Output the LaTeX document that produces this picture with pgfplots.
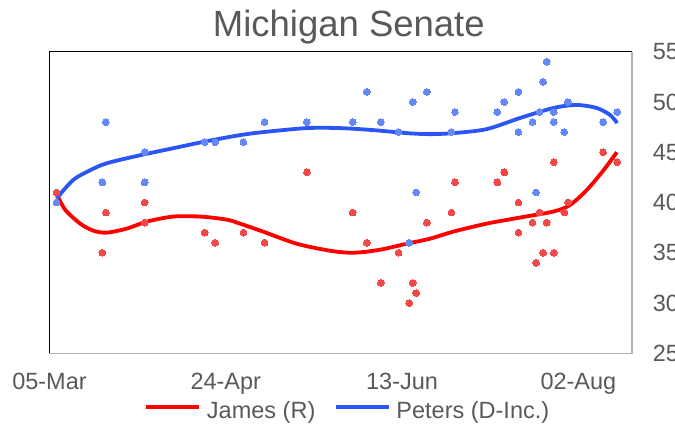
\documentclass[border=0pt]{standalone}
\usepackage{pgfplots}
\pgfplotsset{compat=1.18}
\usepackage{fontspec}
\setmainfont{Liberation Sans}
\definecolor{txt}{HTML}{595959}
\definecolor{rline}{HTML}{FF0000}
\definecolor{rdot}{HTML}{F24848}
\definecolor{bline}{HTML}{2B55F5}
\definecolor{bdot}{HTML}{6587F7}
\begin{document}
\begin{tikzpicture}
\path[use as bounding box] (0,0) rectangle (675pt,427pt);
\node[anchor=base, text=txt, font=\fontsize{36.5}{42}\selectfont, inner sep=0pt] at (348.8pt,390.3pt) {Michigan Senate};
\begin{axis}[
  at={(49.5pt,73.7pt)}, anchor=south west,
  scale only axis, width=582.5pt, height=301.6pt,
  xmin=0, xmax=165.2, ymin=25, ymax=55,
  axis line style={draw=none},
  xtick={0,50,100,150}, xticklabels={05-Mar,24-Apr,13-Jun,02-Aug},
  ytick={25,30,35,40,45,50,55},
  yticklabel pos=right,
  major tick length=0pt,
  tick label style={font=\fontsize{23.5}{28}\selectfont, text=txt},
  /pgf/number format/assume math mode=true,
  xticklabel style={anchor=north, inner sep=0pt, yshift=-20pt},
  yticklabel style={anchor=west, inner sep=0pt, xshift=20.7pt},
  clip=false,
  legend columns=2,
  legend style={at={(0.5104,-0.1913)}, anchor=center, draw=none, fill=none,
    font=\fontsize{23.5}{28}\selectfont, text=txt, inner sep=0pt,
    nodes={inner sep=0pt},
    /tikz/every odd column/.append style={column sep=5.6pt},
    /tikz/every even column/.append style={column sep=18.5pt}},
  legend image code/.code={\draw[#1, line width=4pt] (0pt,0.36em) -- (53pt,0.36em);},
]
\addplot[color=rdot, only marks, mark=*, mark size=3.4pt, mark options={draw=rdot, fill=rdot, line width=0pt}, forget plot] table {
x y
2 41
15 35
16 39
27 40
27 38
44 37
47 36
55 37
61 36
73 43
86 39
90 36
94 32
99 35
102 30
103 32
104 31
107 38
114 39
115 42
127 42
129 43
133 40
133 37
137 38
138 34
139 39
140 35
141 38
143 44
143 35
146 39
147 40
157 45
161 44
};
\addplot[color=bdot, only marks, mark=*, mark size=3.4pt, mark options={draw=bdot, fill=bdot, line width=0pt}, forget plot] table {
x y
2 40
15 42
16 48
27 45
27 42
44 46
47 46
55 46
61 48
73 48
86 48
90 51
94 48
99 47
102 36
103 50
104 41
107 51
114 47
115 49
127 49
129 50
133 51
133 47
137 48
138 41
139 49
140 52
141 54
143 49
143 48
146 47
147 50
157 48
161 49
};
\addplot[rline, line width=3.8pt, smooth, no marks] coordinates {
(2,40.9) (4.4,39.3) (8.7,37.9) (12.4,37.2) (16.2,37.0) (21.9,37.4) (27.6,38.1) (35.1,38.6) (42.7,38.6) (50.2,38.3) (54,37.9) (60.6,37.1) (70.1,35.9) (79.6,35.2) (86.2,35.0) (93.7,35.3) (101.3,35.9) (107.9,36.4) (114.5,37.1) (124,37.9) (133.4,38.5) (142.9,39.1) (147.6,39.75) (152.4,41.25) (157.1,43.2) (160.9,45.0)
};
\addlegendentry{James (R)}
\addplot[bline, line width=3.8pt, smooth, no marks] coordinates {
(2,40.4) (6.75,42.25) (11.5,43.2) (16.2,43.9) (25.7,44.7) (35.1,45.4) (44.6,46.1) (54,46.7) (60.6,47.0) (72.9,47.4) (82.4,47.4) (91.8,47.2) (101.3,46.9) (107.9,46.8) (114.5,46.9) (124,47.3) (133.4,48.4) (142.9,49.4) (149.5,49.7) (155.2,49.4) (159,48.7) (161,47.9)
};
\addlegendentry{Peters (D-Inc.)}
\draw[black!30, line width=1.5pt] (rel axis cs:1,1) -- (rel axis cs:1,0) -- (rel axis cs:0,0);
\draw[black, line width=1.5pt] (rel axis cs:0,0) -- (rel axis cs:0,1) -- (rel axis cs:1,1);
\end{axis}
\end{tikzpicture}
\end{document}
